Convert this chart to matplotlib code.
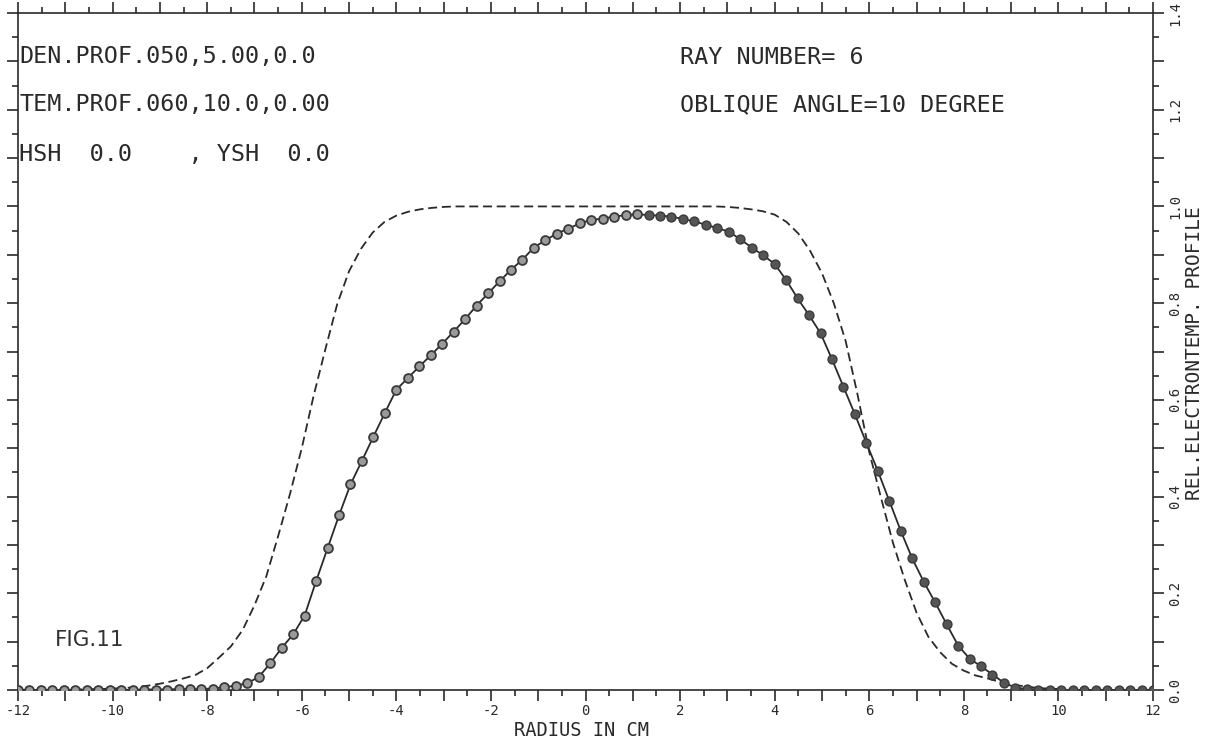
import numpy as np
import matplotlib
matplotlib.use("Agg")
import matplotlib.pyplot as plt
from matplotlib.ticker import MultipleLocator, FuncFormatter

plt.rcParams['axes.unicode_minus'] = False
plt.rcParams['font.family'] = ['DejaVu Sans Mono']

# ---------------- data ----------------
# measured profile (solid line with markers), 100 samples from -12 to 12 cm
meas_x = np.linspace(-12, 12, 100)
meas_y = [0.000, 0.000, 0.000, 0.000, 0.000, 0.000, 0.000, 0.000, 0.000, 0.000,
          0.000, 0.001, 0.001, 0.001, 0.002, 0.002, 0.002, 0.003, 0.006, 0.009,
          0.014, 0.027, 0.055, 0.087, 0.115, 0.154, 0.225, 0.293, 0.361, 0.425,
          0.474, 0.524, 0.573, 0.621, 0.645, 0.669, 0.692, 0.716, 0.741, 0.767,
          0.795, 0.820, 0.845, 0.869, 0.890, 0.915, 0.930, 0.944, 0.954, 0.965,
          0.972, 0.975, 0.979, 0.982, 0.984, 0.982, 0.981, 0.979, 0.974, 0.969,
          0.962, 0.955, 0.948, 0.932, 0.915, 0.899, 0.881, 0.848, 0.810, 0.775,
          0.738, 0.684, 0.627, 0.570, 0.511, 0.453, 0.391, 0.329, 0.272, 0.224,
          0.181, 0.136, 0.092, 0.065, 0.049, 0.032, 0.015, 0.005, 0.002, 0.001,
          0.001, 0.000, 0.000, 0.000, 0.000, 0.000, 0.000, 0.000, 0.000, 0.000]

# reference profile (dashed), sampled every 0.25 cm
ref_x = np.arange(-12, 12.001, 0.25)
ref_y = [0.000, 0.000, 0.000, 0.000, 0.001, 0.001, 0.002, 0.002, 0.003, 0.004,
         0.006, 0.009, 0.013, 0.018, 0.024, 0.031, 0.045, 0.067, 0.090, 0.124,
         0.175, 0.235, 0.318, 0.405, 0.500, 0.608, 0.705, 0.798, 0.866, 0.912,
         0.946, 0.968, 0.981, 0.989, 0.994, 0.997, 0.999, 1.000, 1.000, 1.000,
         1.000, 1.000, 1.000, 1.000, 1.000, 1.000, 1.000, 1.000, 1.000, 1.000,
         1.000, 1.000, 1.000, 1.000, 1.000, 1.000, 1.000, 1.000, 1.000, 1.000,
         0.999, 0.997, 0.994, 0.990, 0.983, 0.968, 0.944, 0.908, 0.862, 0.800,
         0.722, 0.612, 0.492, 0.397, 0.305, 0.228, 0.160, 0.110, 0.078, 0.054,
         0.040, 0.030, 0.024, 0.017, 0.012, 0.008, 0.005, 0.003, 0.002, 0.001,
         0.001, 0.000, 0.000, 0.000, 0.000, 0.000, 0.000]

x_ticks_labeled = [-12, -10, -8, -6, -4, -2, 0, 2, 4, 6, 8, 10, 12]
y_ticks_labeled = [0.0, 0.2, 0.4, 0.6, 0.8, 1.0, 1.2, 1.4]

# ---------------- figure ----------------
W, H = 1207, 743
fig = plt.figure(figsize=(W / 100, H / 100), dpi=100)
ax = fig.add_axes([18 / W, 1 - 690 / H, (1153 - 18) / W, (690 - 13) / H])

ink = '#2a2a2a'
ax.plot(ref_x, ref_y, color=ink, lw=1.3, dashes=(5, 2.6), solid_joinstyle='round',
        dash_joinstyle='round')
ax.plot(meas_x, meas_y, color=ink, lw=1.3, zorder=3)
mx = np.asarray(meas_x)
my = np.asarray(meas_y)
light = mx < 1.3
ax.plot(mx[light], my[light], ls='none', marker='o', ms=6.4, mfc='#9a9a9a',
        mec='#3a3a3a', mew=1.3, zorder=4)
ax.plot(mx[~light], my[~light], ls='none', marker='o', ms=6.4, mfc='#555555',
        mec='#3a3a3a', mew=1.0, zorder=4)

ax.set_xlim(-12, 12)
ax.set_ylim(0, 1.4)

for s in ax.spines.values():
    s.set_color(ink)
    s.set_linewidth(1.2)

ax.xaxis.set_major_locator(MultipleLocator(1))
ax.xaxis.set_minor_locator(MultipleLocator(0.5))
ax.xaxis.set_major_formatter(FuncFormatter(
    lambda v, p: str(int(round(v))) if int(round(v)) in x_ticks_labeled else ''))
ax.yaxis.set_major_locator(MultipleLocator(0.1))
ax.yaxis.set_minor_locator(MultipleLocator(0.05))
ax.yaxis.set_major_formatter(FuncFormatter(
    lambda v, p: f"{v:.1f}" if any(abs(v - t) < 1e-6 for t in y_ticks_labeled) else ''))

ax.tick_params(which='both', direction='out', color=ink, width=1.2,
               top=True, bottom=True, left=True, right=True,
               labelleft=False, labeltop=False, labelright=True, labelbottom=True)
ax.tick_params(which='major', length=8)
ax.tick_params(which='minor', length=4.5)
ax.tick_params(axis='x', labelsize=10, pad=2, labelcolor=ink)
ax.tick_params(axis='y', labelsize=10, pad=3, labelrotation=90, labelcolor=ink)
for lab in ax.get_yticklabels():
    lab.set_va('center')

fig.text(582 / W, 1 - 730 / H, 'RADIUS IN CM', ha='center', va='center',
         fontsize=13.5, color=ink)
fig.text(1194 / W, 1 - 353 / H, 'REL.ELECTRONTEMP. PROFILE', rotation=90,
         ha='center', va='center', fontsize=14, color=ink)

fs = 16.8
fig.text(19 / W, 1 - 57 / H, 'DEN.PROF.050,5.00,0.0', ha='left', va='center',
         fontsize=fs, color=ink)
fig.text(19 / W, 1 - 105 / H, 'TEM.PROF.060,10.0,0.00', ha='left', va='center',
         fontsize=fs, color=ink)
fig.text(19 / W, 1 - 155 / H, 'HSH  0.0    , YSH  0.0', ha='left', va='center',
         fontsize=fs, color=ink)
fig.text(680 / W, 1 - 57 / H, 'RAY NUMBER= 6', ha='left', va='center',
         fontsize=fs, color=ink)
fig.text(680 / W, 1 - 105 / H, 'OBLIQUE ANGLE=10 DEGREE', ha='left', va='center',
         fontsize=fs, color=ink)
fig.text(55 / W, 1 - 640 / H, 'FIG.11', ha='left', va='center',
         fontsize=15.5, color='#333333', family='DejaVu Sans')

fig.savefig('out.png', dpi=100, facecolor='white')
